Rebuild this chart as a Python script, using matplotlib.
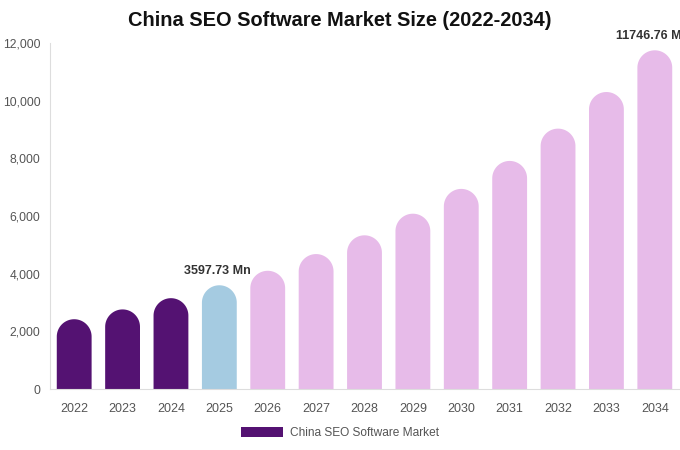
import matplotlib
matplotlib.use("Agg")
import matplotlib.pyplot as plt
import numpy as np
from matplotlib.patches import Rectangle, Polygon

years = ["2022", "2023", "2024", "2025", "2026", "2027", "2028", "2029",
         "2030", "2031", "2032", "2033", "2034"]
values = [2420, 2760, 3150, 3597.73, 4100, 4680, 5330, 6080,
          6940, 7910, 9030, 10300, 11746.76]
colors = ["#541272"] * 3 + ["#a5cbe1"] + ["#e7bbe9"] * 9
annotations = {3: "3597.73 Mn", 12: "11746.76 Mn"}
legend_label = "China SEO Software Market"
title = "China SEO Software Market Size (2022-2034)"
yticks = [0, 2000, 4000, 6000, 8000, 10000, 12000]

plt.rcParams['font.family'] = ['Liberation Sans', 'DejaVu Sans']
W, H = 680, 450
fig = plt.figure(figsize=(W / 100, H / 100), dpi=100)
left, right, bottom, top = 50, 679, 389, 43
ax = fig.add_axes([left / W, (H - bottom) / H, (right - left) / W, (bottom - top) / H])
xmin, xmax = -0.5, len(years) - 0.5
ymin, ymax = 0, 12000
ax.set_xlim(xmin, xmax)
ax.set_ylim(ymin, ymax)

px_per_x = (right - left) / (xmax - xmin)
px_per_y = (bottom - top) / (ymax - ymin)
bw = 0.72
r_px = bw * px_per_x / 2
r_y = r_px / px_per_y

theta = np.linspace(0, np.pi, 60)
for i, (v, c) in enumerate(zip(values, colors)):
    arc = np.column_stack([i + (bw / 2) * np.cos(theta), (v - r_y) + r_y * np.sin(theta)])
    pts = np.vstack([[[i - bw / 2, 0], [i + bw / 2, 0]], arc])
    ax.add_patch(Polygon(pts, closed=True, facecolor=c, edgecolor='none'))

for i, txt in annotations.items():
    ax.text(i - 0.04, values[i] + 290, txt, ha='center', va='bottom',
            fontsize=9, fontweight='bold', color='#333333', clip_on=False)

ax.set_xticks(range(len(years)))
ax.set_xticklabels(years)
ax.set_yticks(yticks)
ax.set_yticklabels([f"{t:,}" for t in yticks])
ax.tick_params(axis='both', length=0, labelsize=9, colors='#555555')
ax.tick_params(axis='x', pad=10)
ax.tick_params(axis='y', pad=7)
for lab in ax.get_yticklabels():
    lab.set_fontsize(8.7)
for s in ['top', 'right']:
    ax.spines[s].set_visible(False)
for s in ['left', 'bottom']:
    ax.spines[s].set_color('#dddddd')
    ax.spines[s].set_linewidth(0.8)

fig.text(0.5, 1 - 21 / H, title, ha='center', va='center', fontsize=14.4, fontweight='bold', color='#111111')

handle = Rectangle((0, 0), 1, 1, facecolor=colors[0])
fig.legend([handle], [legend_label], loc='center', bbox_to_anchor=(0.5, 1 - 433 / H),
           frameon=False, fontsize=8.6, labelcolor='#555555', handlelength=3.5, handleheight=0.95,
           handletextpad=0.55)

fig.savefig("out.png", dpi=100)
